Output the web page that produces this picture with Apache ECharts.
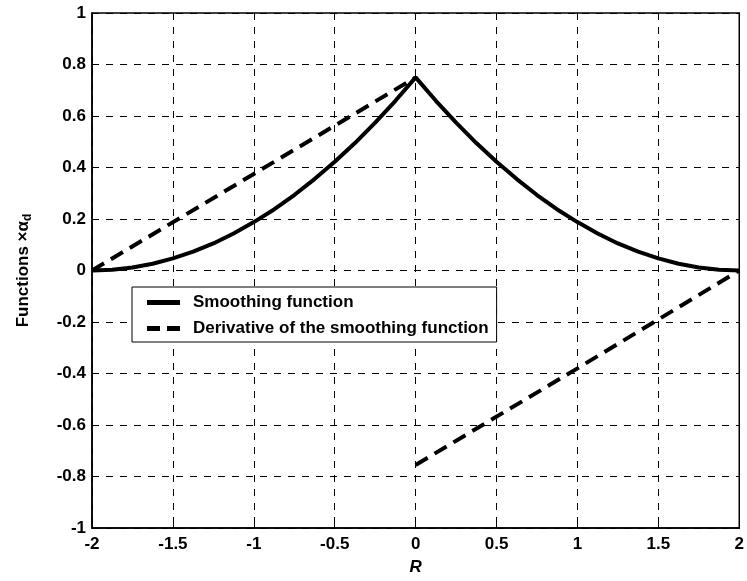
<!DOCTYPE html>
<html>
<head>
<meta charset="utf-8">
<script src="https://cdn.jsdelivr.net/npm/echarts@6/dist/echarts.min.js"></script>
<style>html,body{margin:0;padding:0;background:#fff}#c{width:747px;height:581px}</style>
</head>
<body>
<div id="c"></div>
<script>
var rValues = [-2, -1.875, -1.75, -1.625, -1.5, -1.375, -1.25, -1.125, -1, -0.875, -0.75, -0.625, -0.5, -0.375, -0.25, -0.125, 0,
               0.125, 0.25, 0.375, 0.5, 0.625, 0.75, 0.875, 1, 1.125, 1.25, 1.375, 1.5, 1.625, 1.75, 1.875, 2];
var smoothValues = [0, 0.003, 0.012, 0.026, 0.047, 0.073, 0.105, 0.144, 0.188, 0.237, 0.293, 0.355, 0.422, 0.495, 0.574, 0.659, 0.75,
                    0.659, 0.574, 0.495, 0.422, 0.355, 0.293, 0.237, 0.188, 0.144, 0.105, 0.073, 0.047, 0.026, 0.012, 0.003, 0];
var derivR = [-2, -1, 0, 0, 0, 1, 2];
var derivValues = [0, 0.375, 0.75, null, -0.755, -0.38, 0];
var xTicks = [-2, -1.5, -1, -0.5, 0, 0.5, 1, 1.5, 2];
var yTicks = [-1, -0.8, -0.6, -0.4, -0.2, 0, 0.2, 0.4, 0.6, 0.8, 1];
var legendNames = ['Smoothing function', 'Derivative of the smoothing function'];

var smoothData = rValues.map(function (r, i) { return [r, smoothValues[i]]; });
var derivData = derivR.map(function (r, i) { return [r, derivValues[i] === null ? '-' : derivValues[i]]; });

var font = 'Liberation Sans, Arial, sans-serif';
var chart = echarts.init(document.getElementById('c'));
chart.setOption({
  animation: false,
  backgroundColor: '#fff',
  grid: { left: 92, right: 6, top: 13, bottom: 53, show: true, borderColor: '#000', borderWidth: 1.5 },
  legend: {
    left: 132, top: 287, orient: 'vertical',
    backgroundColor: '#fff', borderColor: '#000', borderWidth: 1,
    padding: [7, 8, 5, 15], itemGap: 9, itemWidth: 33, itemHeight: 5,
    textStyle: { fontFamily: font, fontWeight: 'bold', fontSize: 17, color: '#000', padding: [0, 0, 0, 8] },
    data: [
      { name: legendNames[0], icon: 'path://M0,0H33V5H0Z' },
      { name: legendNames[1], icon: 'path://M0,0H13V5H0Z M20,0H33V5H20Z' }
    ]
  },
  xAxis: {
    type: 'value', min: -2, max: 2, interval: 0.5,
    name: 'R', nameLocation: 'middle', nameGap: 31,
    nameTextStyle: { fontFamily: font, fontWeight: 'bold', fontStyle: 'italic', fontSize: 17, color: '#000' },
    axisLine: { show: true, onZero: false, lineStyle: { color: '#000', width: 1.5 } },
    axisTick: { show: true, inside: true, length: 5, lineStyle: { color: '#000' } },
    axisLabel: { fontFamily: font, fontWeight: 'bold', fontSize: 17, color: '#000', margin: 8,
      formatter: function (v) { return String(v); } },
    splitLine: { show: true, lineStyle: { color: '#000', type: [7, 7], width: 1 } }
  },
  yAxis: {
    type: 'value', min: -1, max: 1, interval: 0.2,
    name: 'Functions ×α{sub|d}', nameLocation: 'middle', nameGap: 58, nameRotate: 90,
    nameTextStyle: { fontFamily: font, fontWeight: 'bold', fontSize: 17, color: '#000',
      rich: { sub: { fontFamily: font, fontWeight: 'bold', fontSize: 12, color: '#000', verticalAlign: 'bottom', padding: [9, 0, 0, 0] } } },
    axisLine: { show: true, onZero: false, lineStyle: { color: '#000', width: 1.5 } },
    axisTick: { show: true, inside: true, length: 5, lineStyle: { color: '#000' } },
    axisLabel: { fontFamily: font, fontWeight: 'bold', fontSize: 17, color: '#000', margin: 6,
      formatter: function (v) { return String(Math.round(v * 10) / 10); } },
    splitLine: { show: true, lineStyle: { color: '#000', type: [7, 7], width: 1 } }
  },
  series: [
    { name: legendNames[0], type: 'line', smooth: false, symbol: 'none', data: smoothData,
      lineStyle: { color: '#000', width: 4 }, itemStyle: { color: '#000' } },
    { name: legendNames[1], type: 'line', symbol: 'none', data: derivData,
      connectNulls: false,
      lineStyle: { color: '#000', width: 4, type: [14, 8] }, itemStyle: { color: '#000' } }
  ]
});
</script>
</body>
</html>
